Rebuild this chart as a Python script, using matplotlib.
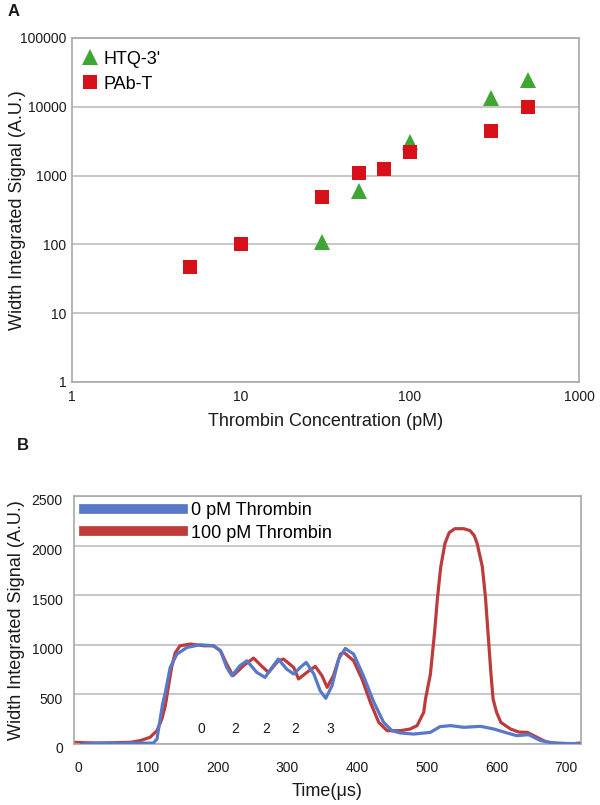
import matplotlib
matplotlib.use("Agg")
import matplotlib.pyplot as plt
import matplotlib.transforms as mtransforms
from matplotlib.ticker import FixedLocator, NullLocator, FuncFormatter

plt.rcParams['font.family'] = ['Liberation Sans', 'DejaVu Sans']

# ---------------- Panel A data ----------------
htq_conc = [30, 50, 100, 300, 500]
htq_signal = [108, 600, 3100, 13500, 24500]
pab_conc = [5, 10, 30, 50, 70, 100, 300, 500]
pab_signal = [47, 100, 490, 1080, 1250, 2200, 4500, 9800]
a_yticks = [1, 10, 100, 1000, 10000, 100000]
a_xticks = [1, 10, 100, 1000]

# ---------------- Panel B data ----------------
blue_t = [5, 20, 40, 60, 80, 100, 108, 113, 117.6, 121, 125, 132, 141.6, 156, 175, 194,
          204, 213, 220.5, 232, 242, 256, 268, 278, 287, 299, 309, 318.5, 327, 338, 347,
          355, 364, 373.5, 383, 395, 409, 424, 438, 450, 462, 481, 505, 519, 534, 553,
          577, 596, 615, 629, 646, 663, 682, 700, 718]
blue_v = [-5, 5, 8, 5, 10, 8, 10, 50, 252, 400, 520, 772, 906, 973, 1000, 990,
          940, 772, 688, 789, 839, 722, 671, 772, 856, 755, 705, 772, 822, 705, 537,
          460, 587, 856, 963, 906, 688, 420, 218, 134, 111, 100, 117, 175, 185, 168,
          178, 151, 111, 84, 94, 34, 10, 5, 3]
red_t = [-6, 10, 30, 50, 75, 89, 103, 113, 120, 125, 129.6, 134, 139, 146, 161, 180,
         194, 204, 213, 222, 237, 251.5, 263.5, 273, 287, 294.5, 309, 316, 328, 340,
         349.6, 357, 366, 376, 381, 395, 407, 419, 431, 443, 462, 476, 486, 495.5, 498,
         505, 511, 515, 518, 520, 526, 532, 540, 553, 562, 568, 572, 579.5, 584, 592,
         595, 600, 606, 620, 632, 644, 658, 672, 690, 710, 720]
red_v = [17, 12, 10, 12, 17, 34, 67, 134, 252, 386, 587, 772, 916, 990, 1007, 990,
         990, 940, 806, 688, 789, 866, 782, 722, 839, 856, 772, 655, 722, 782,
         688, 571, 688, 906, 923, 839, 655, 420, 218, 134, 134, 151, 185, 319, 451,
         700, 1120, 1455, 1661, 1789, 2023, 2130, 2170, 2170, 2150, 2100, 2023, 1789, 1480, 700,
         451, 319, 218, 151, 120, 117, 67, 17, 5, 3, 10]
peak_labels = ['0', '2', '2', '2', '3']
peak_label_t = [176, 225, 270, 311, 362]
peak_label_v = [150, 150, 150, 150, 150]
b_yticks = [0, 500, 1000, 1500, 2000, 2500]
b_xticks = [0, 100, 200, 300, 400, 500, 600, 700]

GRID = '#BDBDBD'
SPINE = '#A8A8A8'
TXT = '#1a1a1a'

fig = plt.figure(figsize=(6, 8.05), dpi=100)

# ---------------- Panel A ----------------
axA = fig.add_axes([0.12, 0.5255, 0.845, 0.4273])
axA.set_xscale('log')
axA.set_yscale('log')
axA.set_xlim(1, 1000)
axA.set_ylim(1, 100000)
axA.plot(htq_conc, htq_signal, linestyle='none', marker='^', markersize=11,
         color='#3FA535', markeredgewidth=0, label="HTQ-3'", zorder=3)
axA.plot(pab_conc, pab_signal, linestyle='none', marker='s', markersize=9.5,
         color='#D7101A', markeredgewidth=0, label='PAb-T', zorder=3)
axA.xaxis.set_major_locator(FixedLocator(a_xticks))
axA.yaxis.set_major_locator(FixedLocator(a_yticks))
axA.xaxis.set_minor_locator(NullLocator())
axA.yaxis.set_minor_locator(NullLocator())
fmt = FuncFormatter(lambda v, p: f"{int(round(v))}")
axA.xaxis.set_major_formatter(fmt)
axA.yaxis.set_major_formatter(fmt)
axA.grid(axis='y', color=GRID, linewidth=1.2)
axA.set_axisbelow(True)
axA.tick_params(axis='both', length=0, labelsize=10, colors=TXT)
axA.tick_params(axis='y', pad=4)
axA.tick_params(axis='x', pad=6)
for s in axA.spines.values():
    s.set_color(SPINE)
    s.set_linewidth(1.2)
axA.set_xlabel('Thrombin Concentration (pM)', fontsize=13, color=TXT, labelpad=6)
axA.set_ylabel('Width Integrated Signal (A.U.)', fontsize=13, color=TXT)
axA.yaxis.label.set_va('center')
axA.yaxis.set_label_coords((18 - 72) / 507, 0.5)
legA = axA.legend(loc='upper left', bbox_to_anchor=(-0.01, 1.0), frameon=False,
                  fontsize=13, handletextpad=0.1, labelspacing=0.45,
                  borderaxespad=0.3, handlelength=1.2)
fig.text(0.013, 0.986, 'A', fontsize=12, fontweight='bold', color=TXT, va='center', ha='left')

# ---------------- Panel B ----------------
axB = fig.add_axes([0.1233, 0.0758, 0.845, 0.3081])
axB.plot(blue_t, blue_v, color='#5878C8', linewidth=2.3, solid_joinstyle='round',
         label='0 pM Thrombin', zorder=3)
axB.plot(red_t, red_v, color='#BD3B3B', linewidth=2.3, solid_joinstyle='round',
         label='100 pM Thrombin', zorder=2)
axB.set_xlim(-6, 721)
axB.set_ylim(0, 2500)
axB.xaxis.set_major_locator(FixedLocator(b_xticks))
axB.yaxis.set_major_locator(FixedLocator(b_yticks))
axB.grid(axis='y', color=GRID, linewidth=1.2)
axB.set_axisbelow(True)
axB.tick_params(axis='both', length=0, labelsize=10, colors=TXT)
axB.tick_params(axis='x', pad=12)
axB.tick_params(axis='y', pad=8)
offset = mtransforms.ScaledTranslation(0, -4 / 100, fig.dpi_scale_trans)
for lab in axB.get_yticklabels():
    lab.set_transform(lab.get_transform() + offset)
for s in axB.spines.values():
    s.set_color(SPINE)
    s.set_linewidth(1.2)
for txt, t, v in zip(peak_labels, peak_label_t, peak_label_v):
    axB.text(t, v, txt, fontsize=10, ha='center', va='center', color=TXT)
axB.set_xlabel('Time(μs)', fontsize=13, color=TXT, labelpad=6)
axB.set_ylabel('Width Integrated Signal (A.U.)', fontsize=13, color=TXT)
axB.yaxis.label.set_va('center')
axB.yaxis.set_label_coords((17 - 74) / 507, 0.5)
legB = axB.legend(loc='upper left', bbox_to_anchor=(0.02, 0.975), frameon=False,
                  fontsize=13, handlelength=5.5, handletextpad=0.4, labelspacing=0.3,
                  borderaxespad=0, borderpad=0)
for ln in legB.get_lines():
    ln.set_linewidth(7)
fig.text(0.028, 0.447, 'B', fontsize=12, fontweight='bold', color=TXT, va='center', ha='left')

fig.savefig('out.png', dpi=100)
